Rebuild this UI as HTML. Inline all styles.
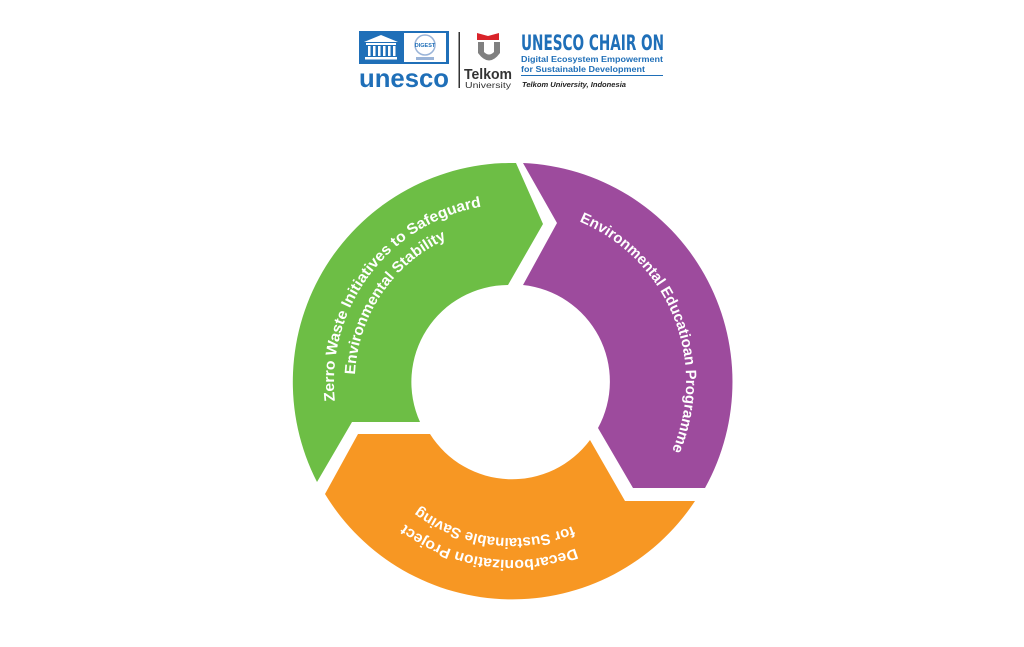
<!DOCTYPE html>
<html><head><meta charset="utf-8"><style>
html,body{margin:0;padding:0;background:#fff;}
body{width:1024px;height:647px;overflow:hidden;position:relative;font-family:"Liberation Sans",sans-serif;}
</style></head><body>
<svg width="1024" height="647" viewBox="0 0 1024 647" xmlns="http://www.w3.org/2000/svg" style="position:absolute;left:0;top:0">
<!-- header logo -->
<rect x="359" y="31" width="90" height="33" fill="#1f6fb8"/>
<rect x="404" y="33" width="42" height="29" fill="#fff"/>
<circle cx="425" cy="45" r="10" fill="none" stroke="#9ab4d8" stroke-width="1.5"/>
<text x="425" y="47" font-size="5.5" font-weight="bold" fill="#1f6fb8" text-anchor="middle">DIGEST</text>
<rect x="416" y="57" width="18" height="3" fill="#9ab4d8"/>
<polygon points="364,42 381,35 398,42" fill="#fff"/>
<rect x="366" y="43" width="30" height="2" fill="#fff"/>
<g fill="#fff"><rect x="368" y="46" width="2.5" height="10"/><rect x="373" y="46" width="2.5" height="10"/><rect x="378" y="46" width="2.5" height="10"/><rect x="383" y="46" width="2.5" height="10"/><rect x="388" y="46" width="2.5" height="10"/><rect x="393" y="46" width="2.5" height="10"/></g>
<rect x="365" y="57" width="32" height="2.5" fill="#fff"/>
<text x="404" y="87" font-size="26" font-weight="bold" fill="#1f6fb8" text-anchor="middle" textLength="90" lengthAdjust="spacingAndGlyphs">unesco</text>
<rect x="458.5" y="32" width="1.5" height="56" fill="#333"/>
<path d="M477 33 L488 36 L499 33 L499 40 L477 40 Z" fill="#d9232a"/>
<path d="M478 42 L484 42 L484 52 Q489 57 494 52 L494 42 L500 42 L500 53 Q489 68 478 53 Z" fill="#808080"/>
<text x="488" y="79" font-size="15" font-weight="bold" fill="#333" text-anchor="middle" textLength="48" lengthAdjust="spacingAndGlyphs">Telkom</text>
<text x="488" y="88" font-size="8" fill="#333" text-anchor="middle" textLength="46" lengthAdjust="spacingAndGlyphs">University</text>
<text x="521" y="50" font-size="21" font-weight="bold" fill="#1f6fb8" font-family="'DejaVu Sans Condensed','Liberation Sans Narrow',sans-serif" textLength="143" lengthAdjust="spacingAndGlyphs">UNESCO CHAIR ON</text>
<text x="521" y="62" font-size="8.5" font-weight="bold" fill="#1f6fb8" textLength="142" lengthAdjust="spacingAndGlyphs">Digital Ecosystem Empowerment</text>
<text x="521" y="72" font-size="8.5" font-weight="bold" fill="#1f6fb8" textLength="124" lengthAdjust="spacingAndGlyphs">for Sustainable Development</text>
<rect x="521" y="75" width="142" height="1" fill="#1f6fb8"/>
<text x="522" y="87" font-size="7.5" font-style="italic" font-weight="bold" fill="#222" textLength="104" lengthAdjust="spacingAndGlyphs">Telkom University, Indonesia</text>

<!-- ring -->
<path d="M317,482 A219,219 0 0 1 516,163 L543,224 L508,285 A97,97 0 0 0 420,422 L352,422 Z" fill="#6dbe45"/>
<path d="M523,163 A219,219 0 0 1 705,488 L633,488 L598,428 A97,97 0 0 0 523,285 L557,223 Z" fill="#9d4b9d"/>
<path d="M695,501 A219,219 0 0 1 325,494 L358,434 L430,434 A97,97 0 0 0 590,440 L625,501 Z" fill="#f79723"/>

<defs>
<path id="g1" d="M 381.8,503.4 A 178,178 0 0 1 592.8,223.4"/>
<path id="g2" d="M 402.9,494.9 A 157,157 0 0 1 575.9,238.5"/>
<path id="p1" d="M 475.8,211.8 A 174,174 0 0 1 604.2,529.6"/>
<path id="o1" d="M 681.3,437.0 A 178,178 0 0 1 334.1,388.2"/>
<path id="o2" d="M 661.2,427.6 A 156,156 0 0 1 356.2,390.2"/>
</defs>
<g font-size="15" font-weight="bold" fill="#fff" text-anchor="middle">
<text><textPath href="#g1" startOffset="50%" textLength="268" lengthAdjust="spacingAndGlyphs">Zerro Waste Initiatives to Safeguard</textPath></text>
<text><textPath href="#g2" startOffset="50%" textLength="172" lengthAdjust="spacingAndGlyphs">Environmental Stability</textPath></text>
<text><textPath href="#p1" startOffset="50%" textLength="275" lengthAdjust="spacingAndGlyphs">Environmental Educatioan Programme</textPath></text>
<text><textPath href="#o1" startOffset="50%" textLength="180" lengthAdjust="spacingAndGlyphs">Decarbonization Project</textPath></text>
<text><textPath href="#o2" startOffset="50%" textLength="162" lengthAdjust="spacingAndGlyphs">for Sustainable Saving</textPath></text>
</g>
</svg>
</body></html>
